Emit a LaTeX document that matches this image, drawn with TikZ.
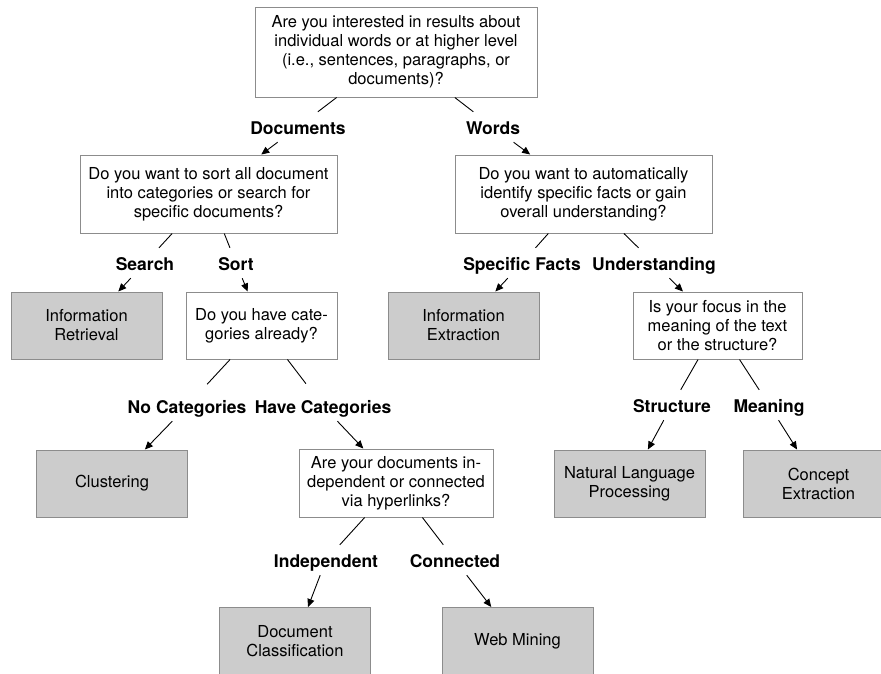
\documentclass[tikz,border=0pt]{standalone}
\usepackage{fontspec}
\setmainfont{TeX Gyre Heros}
\usepackage{tikz}
\usetikzlibrary{arrows.meta}
\definecolor{boxgray}{HTML}{CCCCCC}
\definecolor{edgegray}{HTML}{8C8C8C}
\tikzset{
    askbox/.style={
        rectangle,
        draw=edgegray,
        fill=white,
        line width=1pt,
        align=center,
        inner sep=0pt,
        font=\fontsize{16.5}{19}\selectfont
    },
    methodbox/.style={
        askbox,
        fill=boxgray,
        minimum width=151pt,
        minimum height=67pt
    },
    answer/.style={
        font=\fontsize{17.5}{19}\selectfont\bfseries,
        text height=14pt,
        text depth=0pt,
        inner xsep=4pt,
        inner ysep=8pt,
        anchor=base
    },
    link/.style={
        line width=0.9pt,
        draw=black
    },
    arrow/.style={
        link,
        -{Triangle[length=8pt,width=7pt]}
    }
}

\begin{document}
\begin{tikzpicture}[x=1pt, y=-1pt]
    \useasboundingbox (0,0) rectangle (881,673);

    % questions
    \node[askbox, minimum width=282pt, minimum height=90pt] (level) at (396,52)
        {Are you interested in results about\\individual words or at higher level\\(i.e., sentences, paragraphs, or\\documents)?};
    \node[askbox, minimum width=257pt, minimum height=78pt] (sortq) at (208.5,194)
        {Do you want to sort all document\\into categories or search for\\specific documents?};
    \node[askbox, minimum width=257pt, minimum height=78pt] (factq) at (583.5,194)
        {Do you want to automatically\\identify specific facts or gain\\overall understanding?};
    \node[askbox, minimum width=151pt, minimum height=67pt] (catq) at (261.5,325.5)
        {Do you have cate-\\gories already?};
    \node[askbox, minimum width=169pt, minimum height=67pt] (focusq) at (717.5,325.5)
        {Is your focus in the\\meaning of the text\\or the structure?};
    \node[askbox, minimum width=194pt, minimum height=68pt] (linkq) at (396,483)
        {Are your documents in-\\dependent or connected\\via hyperlinks?};

    % methods
    \node[methodbox] (ir) at (86.5,325.5) {Information\\Retrieval};
    \node[methodbox] (ie) at (463.5,325.5) {Information\\Extraction};
    \node[methodbox] (clus) at (112,483.5) {Clustering};
    \node[methodbox] (nlp) at (629.5,483.5) {Natural Language\\Processing};
    \node[methodbox] (concept) at (818.5,483.5) {Concept\\Extraction};
    \node[methodbox] (doccl) at (295,641) {Document\\Classification};
    \node[methodbox] (web) at (517.5,641) {Web Mining};

    % answers
    \node[answer] (docs) at (298,134) {Documents};
    \node[answer] (words) at (493,134) {Words};
    \node[answer] (search) at (145,270) {Search};
    \node[answer] (sort) at (236,270) {Sort};
    \node[answer] (facts) at (522,270) {Specific Facts};
    \node[answer] (underst) at (654,270) {Understanding};
    \node[answer] (nocat) at (187,413) {No Categories};
    \node[answer] (havecat) at (323,413) {Have Categories};
    \node[answer] (struct) at (672,412) {Structure};
    \node[answer] (meaning) at (769,412) {Meaning};
    \node[answer] (indep) at (326,567) {Independent};
    \node[answer] (conn) at (455,567) {Connected};

    \draw[link] (level) -- (docs);
    \draw[link] (level) -- (words);
    \draw[arrow] (docs) -- (sortq);
    \draw[arrow] (words) -- (factq);

    \draw[link] (sortq) -- (search);
    \draw[link] (sortq) -- (sort);
    \draw[arrow] (search) -- (ir);
    \draw[arrow] (sort) -- (catq);

    \draw[link] (factq) -- (facts);
    \draw[link] (factq) -- (underst);
    \draw[arrow] (facts) -- (ie);
    \draw[arrow] (underst) -- (focusq);

    \draw[link, shorten >=9pt] (catq) -- (nocat);
    \draw[link, shorten >=9pt] (catq) -- (havecat);
    \draw[arrow] (nocat) -- (clus);
    \draw[arrow] (havecat) -- (linkq);

    \draw[link] (focusq) -- (struct);
    \draw[link] (focusq) -- (meaning);
    \draw[arrow] (struct) -- (nlp);
    \draw[arrow] (meaning) -- (concept);

    \draw[link] (linkq) -- (indep);
    \draw[link] (linkq) -- (conn);
    \draw[arrow] (indep) -- (doccl);
    \draw[arrow] (conn) -- (web);
\end{tikzpicture}
\end{document}
